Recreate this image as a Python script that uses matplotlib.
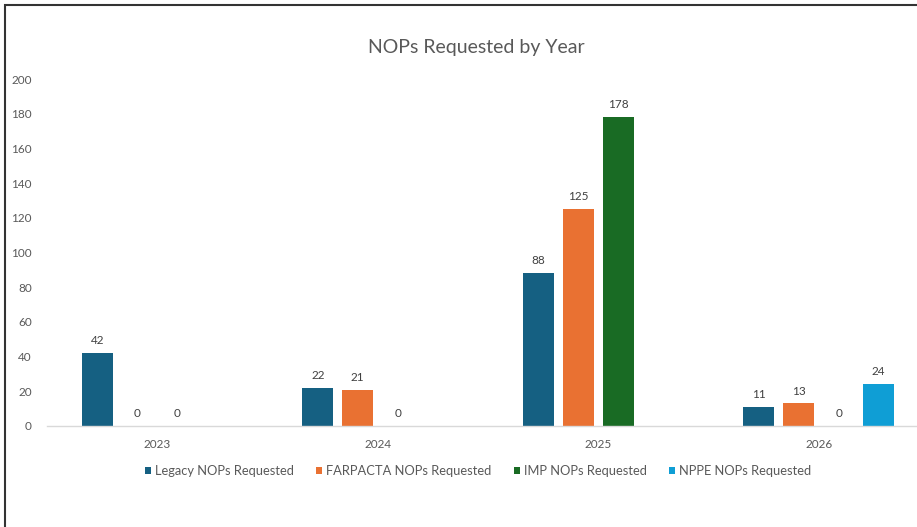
import numpy as np
import matplotlib
matplotlib.use('Agg')
import matplotlib.pyplot as plt
from matplotlib.patches import Rectangle

plt.rcParams['font.family'] = ['Lato', 'DejaVu Sans']

years = ['2023', '2024', '2025', '2026']
series = ['Legacy NOPs Requested', 'FARPACTA NOPs Requested', 'IMP NOPs Requested', 'NPPE NOPs Requested']
legacy = [42, 22, 88, 11]
farpacta = [0, 21, 125, 13]
imp = [0, 0, 178, 0]
nppe = [np.nan, np.nan, np.nan, 24]
colors = ['#156082', '#E97132', '#196B24', '#0F9ED5']

W, H = 917, 527
fig = plt.figure(figsize=(W/100, H/100), dpi=100)
ax = fig.add_axes([47/W, 1-426/H, 882/W, 347/H])

x = np.arange(len(years))
step = 40/220.5
width = 31/220.5
bars = []
for i, (vals, c) in enumerate(zip([legacy, farpacta, imp, nppe], colors)):
    b = ax.bar(x + (i-1.5)*step, vals, width, color=c, label=series[i])
    labs = ['' if np.isnan(v) else '%d' % v for v in np.array(vals, dtype=float)]
    ax.bar_label(b, labels=labs, padding=5, fontsize=8.5, color='#404040')
    bars.append(b)

ax.set_xlim(-0.5, 3.5)
ax.set_ylim(0, 200)
ax.set_yticks(range(0, 201, 20))
ax.set_xticks(x)
ax.set_xticklabels(years)
ax.tick_params(axis='both', length=0, labelsize=8.5, labelcolor='#595959')
ax.tick_params(axis='y', pad=11)
ax.tick_params(axis='x', pad=9)
for s in ['top', 'right', 'left']:
    ax.spines[s].set_visible(False)
ax.spines['bottom'].set_color('#D9D9D9')
ax.spines['bottom'].set_linewidth(1)

fig.text(476/W, 1-48/H, 'NOPs Requested by Year', ha='center', va='center',
         fontsize=14, color='#595959')

fig.legend(handles=bars, loc='center', bbox_to_anchor=(478/W, 1-471/H), ncol=4,
           frameon=False, fontsize=9.3, labelcolor='#595959',
           handlelength=0.5, handleheight=0.5, handletextpad=0.3, columnspacing=1.7)

# outer frame, clipped by the right and bottom edges
fig.patches.append(Rectangle((5/W, -0.05), 1.1, 1-5/H+0.05, transform=fig.transFigure,
                             fill=False, edgecolor='#333333', linewidth=1.5))

fig.savefig('out.png', dpi=100)
